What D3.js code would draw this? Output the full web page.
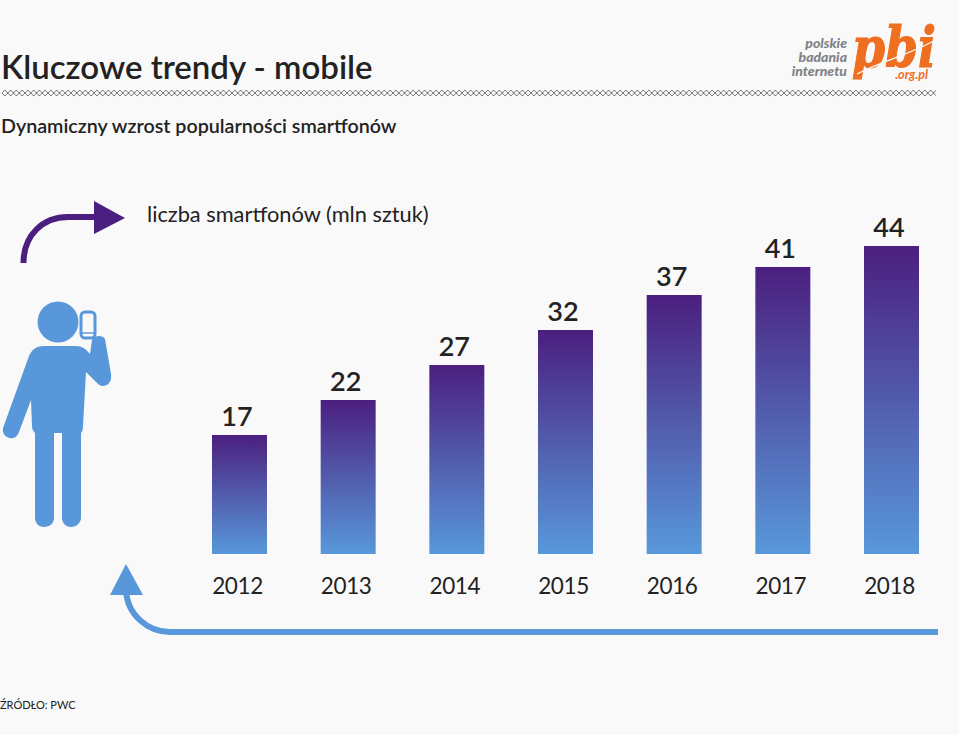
<!doctype html>
<html lang="en">
<head>
<meta charset="utf-8">
<title>Kluczowe trendy - mobile</title>
<style>
html, body { margin: 0; padding: 0; background: #f9f9f9; }
svg { display: block; font-family: Lato, sans-serif; }
</style>
</head>
<body>
<svg id="chart" width="959" height="735"></svg>
<script src="https://cdn.jsdelivr.net/npm/d3@7/dist/d3.min.js"></script>
<script>
(function () {
	"use strict"

	var years = ["2012", "2013", "2014", "2015", "2016", "2017", "2018"];
	var phones = [17, 22, 27, 32, 37, 41, 44];
	var logoLines = ["polskie", "badania", "internetu"];

	var PURPLE = "#4b1f7f", BLUE = "#5898da", ORANGE = "#ee6f1f", BG = "#f9f9f9";

	var svg = d3.select("#chart");
	var defs = svg.append("defs");

	var grad = defs.append("linearGradient")
		.attr("id", "barFill")
		.attr("x1", 0).attr("y1", 0).attr("x2", 0).attr("y2", 1);
	grad.append("stop").attr("offset", 0).attr("stop-color", PURPLE);
	grad.append("stop").attr("offset", 1).attr("stop-color", BLUE);

	// the diamond chain under the title
	var chain = defs.append("pattern")
		.attr("id", "chain")
		.attr("patternUnits", "userSpaceOnUse")
		.attr("x", 2).attr("y", 88)
		.attr("width", 5.75).attr("height", 10);
	chain.append("path")
		.attr("d", "M0,5L2.87,2L5.75,5L2.87,8Z")
		.attr("fill", "none")
		.attr("stroke", "#55585c")
		.attr("stroke-width", 0.8);

	svg.append("rect")
		.attr("x", 2).attr("y", 88)
		.attr("width", 934).attr("height", 10)
		.attr("fill", "url(#chain)");

	// titles
	svg.append("text")
		.attr("x", 1).attr("y", 79)
		.attr("font-size", 33).attr("font-weight", 600)
		.attr("fill", "#222")
		.text("Kluczowe trendy - mobile");

	svg.append("text")
		.attr("x", 1).attr("y", 133)
		.attr("font-size", 19.7).attr("font-weight", 600)
		.attr("fill", "#222")
		.text("Dynamiczny wzrost popularności smartfonów");

	svg.append("text")
		.attr("x", 147).attr("y", 222)
		.attr("font-size", 21.8)
		.attr("fill", "#222")
		.text("liczba smartfonów (mln sztuk)");

	svg.append("text")
		.attr("x", 0).attr("y", 709)
		.attr("font-size", 11)
		.attr("fill", "#222")
		.text("ŹRÓDŁO: PWC");

	// logo
	var logo = svg.append("g");
	logo.selectAll("text.line")
		.data(logoLines)
		.join("text")
		.attr("class", "line")
		.attr("x", 847)
		.attr("y", function (d, i) { return 48 + i * 14; })
		.attr("text-anchor", "end")
		.attr("font-size", 14).attr("font-weight", 900).attr("font-style", "italic")
		.attr("fill", "#7f8389")
		.text(function (d) { return d; });

	logo.append("text")
		.attr("x", 852).attr("y", 67)
		.attr("font-family", "'DejaVu Serif', serif")
		.attr("font-size", 56).attr("font-weight", 700).attr("font-style", "italic")
		.attr("textLength", 84).attr("lengthAdjust", "spacingAndGlyphs")
		.attr("fill", ORANGE)
		.attr("stroke", ORANGE).attr("stroke-width", 1.2)
		.text("pbi");

	// light swoosh across the letters
	logo.append("path")
		.attr("d", "M857,74C880,62 905,56 934,41")
		.attr("fill", "none").attr("stroke", BG).attr("stroke-width", 1.4);

	logo.append("text")
		.attr("x", 928).attr("y", 79)
		.attr("text-anchor", "end")
		.attr("font-size", 12.5).attr("font-weight", 700).attr("font-style", "italic")
		.attr("fill", ORANGE)
		.text(".org.pl");

	// bars
	var x = d3.scaleBand().domain(years).range([212, 919]).paddingInner(0.494);
	var y = d3.scaleLinear().domain([0, 44]).range([554, 246]);

	svg.append("g").selectAll("rect")
		.data(phones)
		.join("rect")
		.attr("x", function (d, i) { return x(years[i]); })
		.attr("y", function (d) { return y(d); })
		.attr("width", x.bandwidth())
		.attr("height", function (d) { return y(0) - y(d); })
		.attr("fill", "url(#barFill)");

	svg.append("g").selectAll("text")
		.data(phones)
		.join("text")
		.attr("x", function (d, i) { return x(years[i]) + x.bandwidth() / 2 - 2.5; })
		.attr("y", function (d) { return y(d) - 9; })
		.attr("text-anchor", "middle")
		.attr("font-size", 27).attr("font-weight", 600)
		.attr("fill", "#222")
		.text(function (d) { return d; });

	// year labels through an axis, with domain and ticks hidden
	var axis = svg.append("g")
		.attr("transform", "translate(-2,578)")
		.call(d3.axisBottom(x).tickSize(0).tickPadding(0));
	axis.select(".domain").remove();
	axis.selectAll("text")
		.attr("font-family", "Lato, sans-serif")
		.attr("font-size", 22.5)
		.attr("letter-spacing", -0.4)
		.attr("fill", "#222")
		.attr("dy", "0.71em");

	// arrows
	svg.append("path")
		.attr("d", "M23.5,263C23.5,235 43,217 68,217L98,217")
		.attr("fill", "none").attr("stroke", PURPLE).attr("stroke-width", 6);
	svg.append("path")
		.attr("d", "M94,201L125,218L94,234Z")
		.attr("fill", PURPLE);

	svg.append("path")
		.attr("d", "M126,590C127,615 148,632 170,632L938,632")
		.attr("fill", "none").attr("stroke", BLUE).attr("stroke-width", 6);
	svg.append("path")
		.attr("d", "M110,595L126,564L143,595Z")
		.attr("fill", BLUE);

	// person with phone
	var person = svg.append("g").attr("fill", BLUE);
	person.append("circle").attr("cx", 58).attr("cy", 322).attr("r", 20.5);
	person.append("path")
		.attr("d", "M44,346L76,346C82,346 86,349 90,354L92,340C94,335 103,335 105,339L111,374C112,382 108,386 103,386C100,386 98,384 95,381L86,372L83,426C83,430 82,432 81,433L81,518C81,523 76,527 71,527C66,527 62,523 62,518L62,433L54,433L54,518C54,523 50,527 44,527C39,527 35,523 35,518L35,433C33,431 32,429 32,426L31,400L19,432C17,437 14,439 10,438C5,437 2,433 3,428L29,356C32,349 37,346 44,346Z");
	person.append("rect")
		.attr("x", 81).attr("y", 312).attr("width", 14).attr("height", 26).attr("rx", 4)
		.attr("fill", BG).attr("stroke", BLUE).attr("stroke-width", 3);
	person.append("line")
		.attr("x1", 81).attr("x2", 95).attr("y1", 333).attr("y2", 333)
		.attr("stroke", BLUE).attr("stroke-width", 1.5);
})();
</script>
</body>
</html>
